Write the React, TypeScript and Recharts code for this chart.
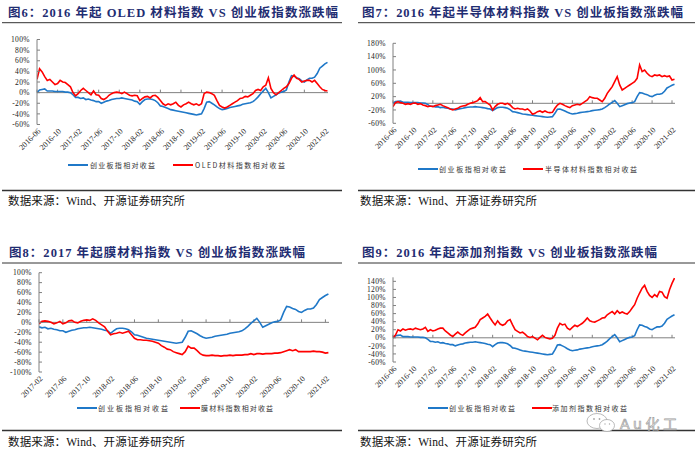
import React from 'react';
import { LineChart, Line, XAxis, YAxis, ReferenceLine } from 'recharts';

// ---- tick labels ----
const ticks16 = ["2016-06","2016-10","2017-02","2017-06","2017-10","2018-02","2018-06","2018-10","2019-02","2019-06","2019-10","2020-02","2020-06","2020-10","2021-02"];
const ticks17 = ticks16.slice(2);
const yTicks6 = [-60,-40,-20,0,20,40,60,80,100];
const yTicks7 = [-60,-20,20,60,100,140,180];
const yTicks8 = [-100,-80,-60,-40,-20,0,20,40,60,80,100];
const yTicks9 = [-60,-40,-20,0,20,40,60,80,100,120,140];

// ---- series (semi-monthly, from 2016-06), % relative return ----
const chinext = [
  0, 5, 6, 7, 3, 3, 3, 2,
  2, 2, 2, 1, 1, 0, -4, -9,
  -9, -11, -10, -13, -12, -14, -15, -17,
  -17, -20, -18, -16, -15, -13, -12, -11,
  -11, -10, -11, -12, -13, -14, -16, -17,
  -22, -17, -13, -12, -12, -13, -15, -19,
  -25, -26, -28, -30, -32, -33, -34, -35,
  -36, -37, -38, -39, -40, -41, -42, -41,
  -40, -30, -18, -17, -20, -23, -27, -30,
  -32, -31, -30, -28, -27, -26, -25, -24,
  -22, -21, -20, -19, -17, -13, -8, -2,
  3, 8, 0, -10, -7, -4, -1, 1,
  2, 5, 20, 32, 31, 28, 26, 22,
  20, 24, 27, 27, 29, 36, 46, 50,
  54, 57,
];
const oled = [
  25, 45, 39, 30, 23, 25, 20, 15,
  17, 23, 20, 19, 15, 11, 0, -6,
  -2, 4, 8, 4, 0, -4, 3, -4,
  -5, -11, -13, -10, -5, -2, 0, 1,
  0, -2, 1, -2, -5, -6, -5, -6,
  -15, -11, -8, -7, -10, -6, -5, -9,
  -15, -21, -24, -21, -23, -21, -18, -24,
  -27, -23, -21, -18, -21, -23, -21, -24,
  -21, -2, 1, 0, -2, -5, -15, -24,
  -27, -29, -27, -24, -21, -18, -15, -11,
  -10, -7, -8, -5, -2, 4, 6, 4,
  11, 14, 28, 8, 0, -4, 0, 4,
  8, 11, 17, 27, 33, 27, 25, 20,
  22, 23, 23, 20, 23, 17, 11, 6,
  4, 3,
];
const semi = [
  -10, 2, 5, 2, 0, -3, -1, -3,
  0, 1, -3, -1, -5, -7, -10, -8,
  -10, -7, -5, -3, -7, -10, -13, -17,
  -20, -17, -15, -10, -8, -7, -3, 0,
  2, 5, 8, 17, 5, 5, 0, -5,
  -20, -10, -3, 0, 0, -3, 0, -5,
  -13, -17, -15, -17, -17, -20, -17, -23,
  -33, -30, -25, -23, -27, -23, -27, -28,
  -27, -15, -5, 0, -3, -7, -10, -13,
  -7, -5, -3, -5, 0, 5, 10, 20,
  17, 15, 15, 10, 5, 15, 30, 40,
  50, 65, 80, 55, 40, 45, 50, 55,
  60, 65, 75, 115, 95, 100, 90, 83,
  80, 85, 83, 85, 80, 83, 80, 82,
  70, 72,
];
// film index starts 2017-02
const film = [
  -3, 2, 3, 2, 0, -3, -1, 2,
  -3, -1, 3, 4, 0, -1, 2, 4,
  5, 4, 7, 4, -1, -5, -9, -18,
  -25, -23, -22, -20, -22, -20, -18, -25,
  -32, -35, -35, -36, -36, -37, -38, -40,
  -42, -47, -50, -54, -55, -59, -61, -63,
  -65, -59, -48, -52, -52, -57, -63, -66,
  -67, -67, -66, -67, -67, -68, -67, -67,
  -66, -67, -66, -66, -66, -65, -65, -63,
  -65, -63, -63, -64, -63, -63, -63, -62,
  -62, -61, -59, -57, -55, -57, -55, -59,
  -59, -59, -59, -59, -58, -59, -59, -60,
  -62, -61,
];
const additive = [
  0, 7, 20, 17, 22, 19, 21, 22,
  20, 24, 22, 20, 22, 26, 16, 20,
  17, 19, 22, 24, 24, 17, 12, 7,
  3, 9, 14, 9, 6, 12, 17, 22,
  24, 26, 34, 45, 49, 53, 59, 49,
  40, 32, 42, 34, 31, 34, 42, 45,
  32, 20, 16, 12, 14, 9, 3, 1,
  3, -1, -5, 1, 6, 1, -1, -3,
  -1, 6, 24, 36, 32, 34, 24, 20,
  26, 31, 28, 32, 36, 42, 49, 42,
  40, 39, 42, 45, 49, 50, 57, 61,
  65, 59, 67, 61, 64, 61, 59, 65,
  74, 82, 98, 111, 123, 130, 115, 105,
  100, 107, 102, 115, 113, 102, 98, 119,
  135, 148,
];

const FILM_START = 16;
const rows = chinext.map((v, i) => ({
  t: i / 2,
  cyb: v,
  oled: oled[i],
  semi: semi[i],
  add: additive[i],
  film: i >= FILM_START ? film[i - FILM_START] : null,
}));
const rows17 = rows.slice(FILM_START);

const BLUE = '#1f78c8';
const RED = '#ff0000';
const AXIS = '#808080';
const SERIF = "'Liberation Serif', 'Times New Roman', 'Noto Sans CJK SC', serif";
const CJK = "'Noto Sans CJK SC', 'Liberation Serif', sans-serif";

function XTick(props: any) {
  const { x, y, payload, labels, start } = props;
  const k = Math.round((payload.value - start) / 4);
  return (
    <g transform={`translate(${x + 2},${y})`}>
      <text x={0} y={0} dy={3} textAnchor="end" transform="rotate(-45)" fontSize={8} fontFamily={SERIF} fill="#222">
        {labels[k]}
      </text>
    </g>
  );
}

function ZeroAxis(props: any) {
  const { x1, y1, x2, y2, domain, ticks } = props;
  if (x1 == null) return null;
  const span = domain[1] - domain[0];
  return (
    <g>
      <line x1={x1} y1={y1} x2={x2} y2={y2} stroke={AXIS} strokeWidth={1} />
      {ticks.map((t: number) => {
        const xx = x1 + ((t - domain[0]) / span) * (x2 - x1);
        return <line key={t} x1={xx} x2={xx} y1={y1} y2={y1 - 3} stroke={AXIS} strokeWidth={1} />;
      })}
    </g>
  );
}

function Panel(p: any) {
  const xTicks = p.labels.map((_: string, k: number) => p.xDomain[0] + k * 4);
  return (
    <div style={{ position: 'absolute', left: p.left, top: p.top }}>
      <LineChart width={350} height={p.height} data={p.data} margin={{ top: p.mt, right: p.mr, bottom: p.mb, left: 0 }}>
        <XAxis
          type="number"
          dataKey="t"
          domain={p.xDomain}
          ticks={xTicks}
          interval={0}
          axisLine={false}
          tickLine={false}
          tickSize={0}
          tickMargin={5}
          height={30}
          allowDataOverflow
          tick={(tp: any) => <XTick {...tp} labels={p.labels} start={p.xDomain[0]} />}
        />
        <YAxis
          type="number"
          domain={p.yDomain}
          ticks={p.yTicks}
          interval={0}
          width={p.yw}
          allowDataOverflow
          axisLine={{ stroke: AXIS }}
          tickLine={{ stroke: AXIS }}
          tickSize={-3}
          tickMargin={10}
          tick={{ fontSize: 7.5, fill: '#222', fontFamily: SERIF, letterSpacing: 0.4 }}
          tickFormatter={(v: number) => `${v}%`}
        />
        <ReferenceLine y={0} shape={(sp: any) => <ZeroAxis {...sp} domain={p.xDomain} ticks={xTicks} />} />
        <Line type="linear" dataKey="cyb" stroke={BLUE} strokeWidth={1.6} dot={false} isAnimationActive={false} />
        <Line type="linear" dataKey={p.red} stroke={RED} strokeWidth={1.6} dot={false} isAnimationActive={false} />
      </LineChart>
    </div>
  );
}

function Legend({ y, bx, btx, bw, rx, rtx, rw, redLabel }: any) {
  return (
    <g>
      <line x1={bx} x2={bx + 20} y1={y} y2={y} stroke={BLUE} strokeWidth={2} />
      <text x={btx} y={y + 2.5} fontSize={7} fontFamily={CJK} fill="#333" textLength={bw} lengthAdjust="spacing">创业板指相对收益</text>
      <line x1={rx} x2={rx + 20} y1={y} y2={y} stroke={RED} strokeWidth={2} />
      <text x={rtx} y={y + 2.5} fontSize={7} fontFamily={CJK} fill="#333" textLength={rw} lengthAdjust="spacing">{redLabel}</text>
    </g>
  );
}

const TITLE_COLOR = '#1f2d72';

export default function App() {
  return (
    <div style={{ position: 'absolute', left: 0, top: 0, width: 700, height: 453, background: '#fff', overflow: 'hidden' }}>
      <svg width={700} height={453} style={{ position: 'absolute', left: 0, top: 0 }}>
        {/* titles */}
        <text x={8} y={17} fontSize={12.5} fontWeight="bold" fontFamily={SERIF} fill={TITLE_COLOR} textLength={330} lengthAdjust="spacing">图6：2016 年起 OLED 材料指数 VS 创业板指数涨跌幅</text>
        <text x={362} y={17} fontSize={12.5} fontWeight="bold" fontFamily={SERIF} fill={TITLE_COLOR} textLength={321} lengthAdjust="spacing">图7：2016 年起半导体材料指数 VS 创业板指数涨跌幅</text>
        <text x={9} y={257} fontSize={12.5} fontWeight="bold" fontFamily={SERIF} fill={TITLE_COLOR} textLength={296} lengthAdjust="spacing">图8：2017 年起膜材料指数 VS 创业板指数涨跌幅</text>
        <text x={362} y={257} fontSize={12.5} fontWeight="bold" fontFamily={SERIF} fill={TITLE_COLOR} textLength={295} lengthAdjust="spacing">图9：2016 年起添加剂指数 VS 创业板指数涨跌幅</text>
        {/* title underlines */}
        <line x1={2} x2={342} y1={22.7} y2={22.7} stroke="#333" strokeWidth={1} />
        <line x1={358} x2={695} y1={22.7} y2={22.7} stroke="#333" strokeWidth={1} />
        <line x1={2} x2={342} y1={263} y2={263} stroke="#333" strokeWidth={1} />
        <line x1={358} x2={695} y1={263} y2={263} stroke="#333" strokeWidth={1} />
        {/* legends */}
        <Legend y={165} bx={68} btx={90} bw={65} rx={173} rtx={195} rw={90} redLabel="OLED材料指数相对收益" />
        <Legend y={169} bx={418} btx={439} bw={67} rx={523} rtx={545} rw={92} redLabel="半导体材料指数相对收益" />
        <Legend y={408} bx={77} btx={98} bw={70} rx={180} rtx={201} rw={72} redLabel="膜材料指数相对收益" />
        <Legend y={408} bx={428} btx={449} bw={66} rx={532} rtx={552} rw={75} redLabel="添加剂指数相对收益" />
        {/* bottom separators */}
        <line x1={2} x2={342} y1={190.5} y2={190.5} stroke="#333" strokeWidth={1.3} />
        <line x1={358} x2={695} y1={190.5} y2={190.5} stroke="#333" strokeWidth={1.3} />
        <line x1={2} x2={342} y1={430.5} y2={430.5} stroke="#333" strokeWidth={1.3} />
        <line x1={358} x2={695} y1={430.5} y2={430.5} stroke="#333" strokeWidth={1.3} />
        {/* sources */}
        <text x={8} y={205} fontSize={11.5} fontFamily={SERIF} fill="#111" textLength={177} lengthAdjust="spacing">数据来源：Wind、开源证券研究所</text>
        <text x={360} y={205} fontSize={11.5} fontFamily={SERIF} fill="#111" textLength={177} lengthAdjust="spacing">数据来源：Wind、开源证券研究所</text>
        <text x={8} y={446} fontSize={11.5} fontFamily={SERIF} fill="#111" textLength={177} lengthAdjust="spacing">数据来源：Wind、开源证券研究所</text>
        <text x={360} y={446} fontSize={11.5} fontFamily={SERIF} fill="#111" textLength={177} lengthAdjust="spacing">数据来源：Wind、开源证券研究所</text>
        {/* watermark */}
        <g stroke="#a8a8a8" strokeWidth={0.8} fill="#fff">
          <ellipse cx={597} cy={421} rx={10} ry={7.5} />
          <ellipse cx={607} cy={425.5} rx={7.5} ry={6} />
          <circle cx={594} cy={419} r={0.9} fill="#a8a8a8" stroke="none" />
          <circle cx={599.5} cy={419} r={0.9} fill="#a8a8a8" stroke="none" />
          <circle cx={605} cy={424} r={0.7} fill="#a8a8a8" stroke="none" />
          <circle cx={609.5} cy={424} r={0.7} fill="#a8a8a8" stroke="none" />
        </g>
        <text x={620} y={429} fontSize={14} fontFamily="'DejaVu Sans', 'Noto Sans CJK SC', sans-serif" fill="none" stroke="#a0a0a0" strokeWidth={0.7} textLength={57} lengthAdjust="spacing">Au化工</text>
      </svg>

      <Panel left={0} top={0} height={170} mt={39.5} mb={15.5} yw={37} mr={22}
        data={rows} red="oled" xDomain={[0, 56.6]} labels={ticks16} yDomain={[-60, 100]} yTicks={yTicks6} />
      <Panel left={350} top={0} height={170} mt={43.3} mb={16.7} yw={43} mr={25}
        data={rows} red="semi" xDomain={[0, 56.6]} labels={ticks16} yDomain={[-60, 180]} yTicks={yTicks7} />
      <Panel left={0} top={230} height={180} mt={42.7} mb={8} yw={39} mr={21}
        data={rows17} red="film" xDomain={[8, 56.6]} labels={ticks17} yDomain={[-100, 100]} yTicks={yTicks8} />
      <Panel left={350} top={230} height={180} mt={47.3} mb={18} yw={43} mr={25}
        data={rows} red="add" xDomain={[0, 56.6]} labels={ticks16} yDomain={[-60, 150]} yTicks={yTicks9} />
    </div>
  );
}
